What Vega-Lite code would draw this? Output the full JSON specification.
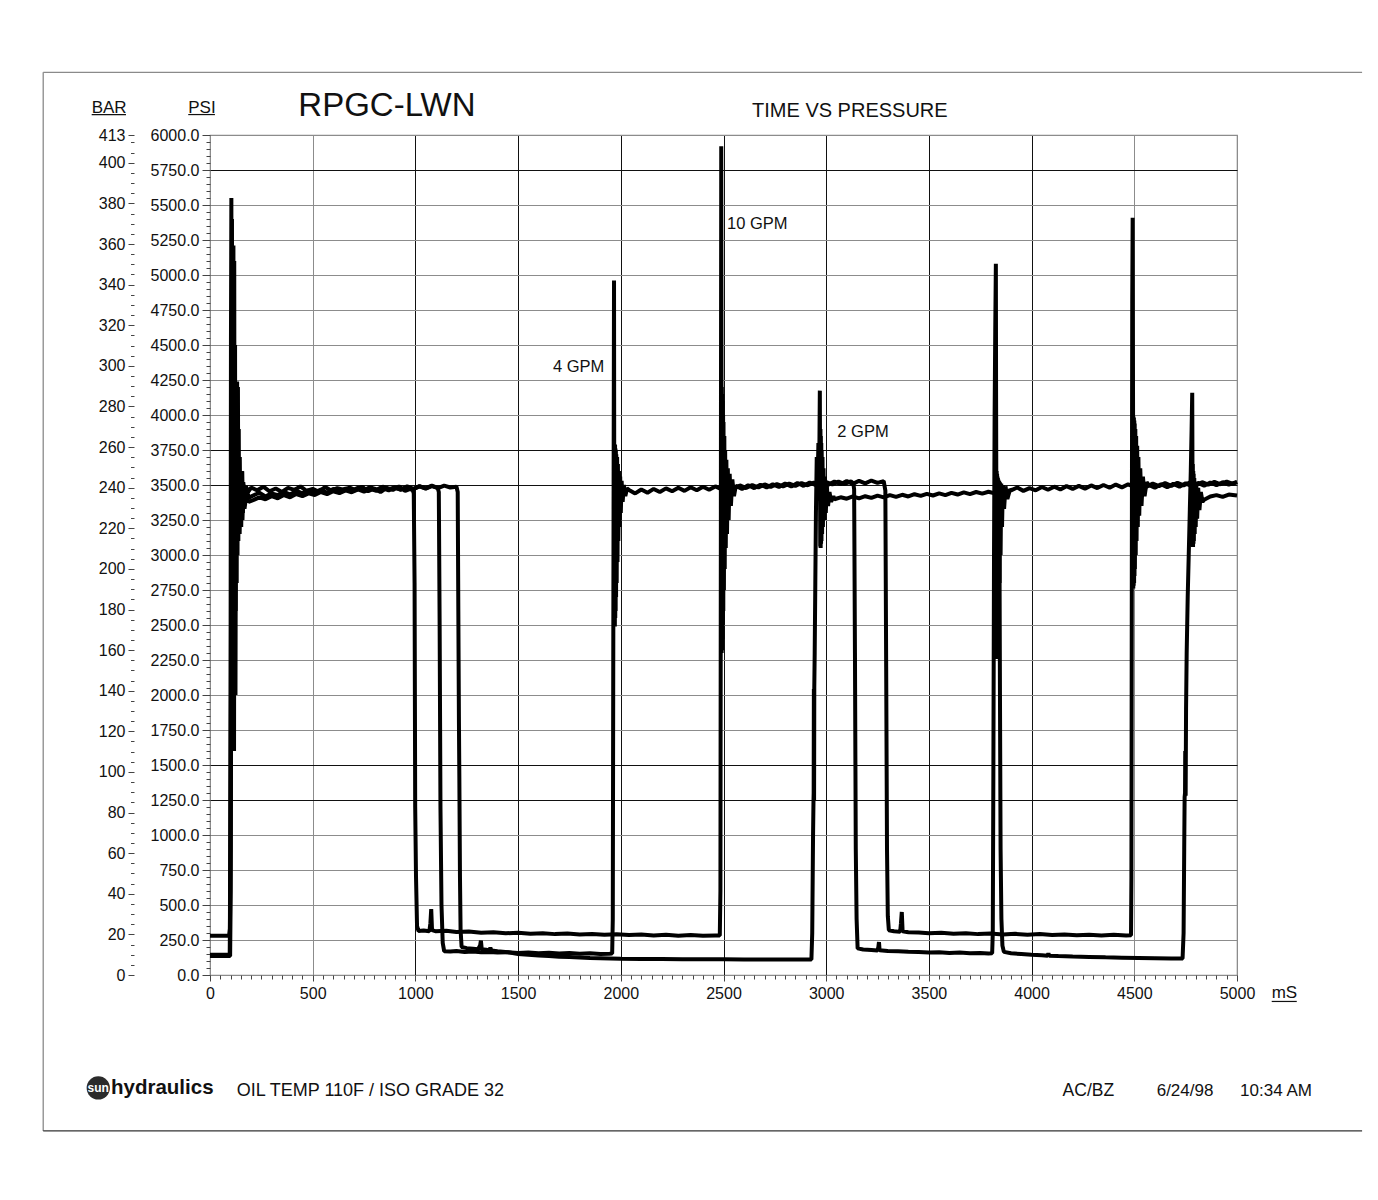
{
  "$schema": "https://vega.github.io/schema/vega-lite/v6.json",
  "width": 1027,
  "height": 840,
  "autosize": {"type": "none"},
  "padding": {"left": 210, "top": 135, "right": 141, "bottom": 225},
  "background": "white",
  "config": {
    "view": {"stroke": "#8a8a8a", "strokeWidth": 1.2},
    "axis": {"labelFont": "Liberation Sans", "labelColor": "#111"}
  },
  "datasets": {
    "traces": [
      {"series":"10 GPM","t":0,"psi":280},{"series":"10 GPM","t":93,"psi":280},{"series":"10 GPM","t":97,"psi":330},{"series":"10 GPM","t":100,"psi":2000},{"series":"10 GPM","t":102,"psi":4500},{"series":"10 GPM","t":104,"psi":5550},{"series":"10 GPM","t":106,"psi":3000},{"series":"10 GPM","t":107,"psi":5400},{"series":"10 GPM","t":109,"psi":2200},{"series":"10 GPM","t":111,"psi":4800},{"series":"10 GPM","t":113,"psi":1700},{"series":"10 GPM","t":115,"psi":4200},{"series":"10 GPM","t":117,"psi":1600},{"series":"10 GPM","t":119,"psi":4000},{"series":"10 GPM","t":121,"psi":2000},{"series":"10 GPM","t":123,"psi":3800},{"series":"10 GPM","t":125,"psi":2600},{"series":"10 GPM","t":127,"psi":3700},{"series":"10 GPM","t":129,"psi":3000},{"series":"10 GPM","t":131,"psi":3650},{"series":"10 GPM","t":134,"psi":3100},{"series":"10 GPM","t":137,"psi":3600},{"series":"10 GPM","t":140,"psi":3200},{"series":"10 GPM","t":144,"psi":3580},{"series":"10 GPM","t":148,"psi":3300},{"series":"10 GPM","t":152,"psi":3560},{"series":"10 GPM","t":157,"psi":3380},{"series":"10 GPM","t":162,"psi":3520},{"series":"10 GPM","t":168,"psi":3420},{"series":"10 GPM","t":175,"psi":3490},{"series":"10 GPM","t":185,"psi":3450},
      {"series":"10 GPM","t":200,"psi":3482},{"series":"10 GPM","t":230,"psi":3462},{"series":"10 GPM","t":260,"psi":3488},{"series":"10 GPM","t":290,"psi":3455},{"series":"10 GPM","t":320,"psi":3475},{"series":"10 GPM","t":350,"psi":3450},{"series":"10 GPM","t":380,"psi":3480},{"series":"10 GPM","t":410,"psi":3465},{"series":"10 GPM","t":440,"psi":3490},{"series":"10 GPM","t":470,"psi":3458},{"series":"10 GPM","t":500,"psi":3473},{"series":"10 GPM","t":530,"psi":3452},{"series":"10 GPM","t":560,"psi":3485},{"series":"10 GPM","t":590,"psi":3460},{"series":"10 GPM","t":620,"psi":3478},{"series":"10 GPM","t":650,"psi":3467},{"series":"10 GPM","t":680,"psi":3482},{"series":"10 GPM","t":710,"psi":3462},{"series":"10 GPM","t":740,"psi":3488},{"series":"10 GPM","t":770,"psi":3455},{"series":"10 GPM","t":800,"psi":3475},{"series":"10 GPM","t":830,"psi":3450},{"series":"10 GPM","t":860,"psi":3480},{"series":"10 GPM","t":890,"psi":3465},{"series":"10 GPM","t":920,"psi":3490},{"series":"10 GPM","t":950,"psi":3458},{"series":"10 GPM","t":975,"psi":3473},{"series":"10 GPM","t":988,"psi":3460},
      {"series":"10 GPM","t":992,"psi":3440},{"series":"10 GPM","t":996,"psi":2800},{"series":"10 GPM","t":999,"psi":1200},{"series":"10 GPM","t":1003,"psi":700},{"series":"10 GPM","t":1008,"psi":350},{"series":"10 GPM","t":1015,"psi":315},
      {"series":"10 GPM","t":1040,"psi":318},{"series":"10 GPM","t":1068,"psi":312},{"series":"10 GPM","t":1073,"psi":370},{"series":"10 GPM","t":1077,"psi":470},{"series":"10 GPM","t":1081,"psi":320},{"series":"10 GPM","t":1100,"psi":312},{"series":"10 GPM","t":1150,"psi":316},{"series":"10 GPM","t":1200,"psi":307},{"series":"10 GPM","t":1260,"psi":311},{"series":"10 GPM","t":1320,"psi":302},{"series":"10 GPM","t":1380,"psi":306},{"series":"10 GPM","t":1440,"psi":298},{"series":"10 GPM","t":1500,"psi":302},{"series":"10 GPM","t":1560,"psi":295},{"series":"10 GPM","t":1620,"psi":299},{"series":"10 GPM","t":1680,"psi":292},{"series":"10 GPM","t":1740,"psi":296},{"series":"10 GPM","t":1800,"psi":289},{"series":"10 GPM","t":1860,"psi":293},{"series":"10 GPM","t":1920,"psi":287},{"series":"10 GPM","t":1980,"psi":291},{"series":"10 GPM","t":2040,"psi":285},{"series":"10 GPM","t":2100,"psi":289},{"series":"10 GPM","t":2160,"psi":283},{"series":"10 GPM","t":2220,"psi":287},{"series":"10 GPM","t":2280,"psi":281},{"series":"10 GPM","t":2340,"psi":285},{"series":"10 GPM","t":2400,"psi":280},{"series":"10 GPM","t":2460,"psi":283},{"series":"10 GPM","t":2482,"psi":282},
      {"series":"10 GPM","t":2485,"psi":600},{"series":"10 GPM","t":2487,"psi":3000},{"series":"10 GPM","t":2489,"psi":5920},{"series":"10 GPM","t":2490,"psi":4500},{"series":"10 GPM","t":2491,"psi":2300},{"series":"10 GPM","t":2492,"psi":4200},{"series":"10 GPM","t":2493,"psi":2320},{"series":"10 GPM","t":2494,"psi":4150},{"series":"10 GPM","t":2495,"psi":2400},{"series":"10 GPM","t":2496,"psi":4100},{"series":"10 GPM","t":2497,"psi":2500},{"series":"10 GPM","t":2498,"psi":4000},{"series":"10 GPM","t":2499,"psi":2600},{"series":"10 GPM","t":2500,"psi":3950},{"series":"10 GPM","t":2502,"psi":2750},{"series":"10 GPM","t":2504,"psi":3850},{"series":"10 GPM","t":2506,"psi":2900},{"series":"10 GPM","t":2508,"psi":3750},{"series":"10 GPM","t":2511,"psi":3050},{"series":"10 GPM","t":2514,"psi":3680},{"series":"10 GPM","t":2517,"psi":3150},{"series":"10 GPM","t":2521,"psi":3620},{"series":"10 GPM","t":2525,"psi":3250},{"series":"10 GPM","t":2530,"psi":3580},{"series":"10 GPM","t":2536,"psi":3350},{"series":"10 GPM","t":2543,"psi":3540},{"series":"10 GPM","t":2551,"psi":3420},{"series":"10 GPM","t":2560,"psi":3495},
      {"series":"10 GPM","t":2590,"psi":3472},{"series":"10 GPM","t":2620,"psi":3498},{"series":"10 GPM","t":2650,"psi":3478},{"series":"10 GPM","t":2680,"psi":3502},{"series":"10 GPM","t":2710,"psi":3482},{"series":"10 GPM","t":2740,"psi":3505},{"series":"10 GPM","t":2770,"psi":3486},{"series":"10 GPM","t":2800,"psi":3510},{"series":"10 GPM","t":2830,"psi":3490},{"series":"10 GPM","t":2860,"psi":3514},{"series":"10 GPM","t":2890,"psi":3494},{"series":"10 GPM","t":2920,"psi":3518},{"series":"10 GPM","t":2950,"psi":3498},{"series":"10 GPM","t":2980,"psi":3520},{"series":"10 GPM","t":3010,"psi":3502},{"series":"10 GPM","t":3040,"psi":3525},{"series":"10 GPM","t":3070,"psi":3505},{"series":"10 GPM","t":3100,"psi":3528},{"series":"10 GPM","t":3130,"psi":3508},{"series":"10 GPM","t":3160,"psi":3530},{"series":"10 GPM","t":3190,"psi":3512},{"series":"10 GPM","t":3220,"psi":3532},{"series":"10 GPM","t":3250,"psi":3515},{"series":"10 GPM","t":3280,"psi":3528},
      {"series":"10 GPM","t":3288,"psi":3460},{"series":"10 GPM","t":3292,"psi":2200},{"series":"10 GPM","t":3296,"psi":900},{"series":"10 GPM","t":3300,"psi":420},{"series":"10 GPM","t":3305,"psi":320},
      {"series":"10 GPM","t":3330,"psi":312},{"series":"10 GPM","t":3360,"psi":308},{"series":"10 GPM","t":3364,"psi":370},{"series":"10 GPM","t":3368,"psi":450},{"series":"10 GPM","t":3372,"psi":312},{"series":"10 GPM","t":3400,"psi":306},{"series":"10 GPM","t":3450,"psi":303},{"series":"10 GPM","t":3500,"psi":298},{"series":"10 GPM","t":3560,"psi":302},{"series":"10 GPM","t":3620,"psi":295},{"series":"10 GPM","t":3680,"psi":299},{"series":"10 GPM","t":3740,"psi":292},{"series":"10 GPM","t":3800,"psi":296},{"series":"10 GPM","t":3860,"psi":290},{"series":"10 GPM","t":3920,"psi":294},{"series":"10 GPM","t":3980,"psi":288},{"series":"10 GPM","t":4040,"psi":292},{"series":"10 GPM","t":4100,"psi":286},{"series":"10 GPM","t":4160,"psi":290},{"series":"10 GPM","t":4220,"psi":284},{"series":"10 GPM","t":4280,"psi":288},{"series":"10 GPM","t":4340,"psi":283},{"series":"10 GPM","t":4400,"psi":287},{"series":"10 GPM","t":4460,"psi":282},{"series":"10 GPM","t":4484,"psi":284},
      {"series":"10 GPM","t":4486,"psi":700},{"series":"10 GPM","t":4488,"psi":3000},{"series":"10 GPM","t":4490,"psi":4800},{"series":"10 GPM","t":4492,"psi":5409},{"series":"10 GPM","t":4493,"psi":4600},{"series":"10 GPM","t":4494,"psi":3993},{"series":"10 GPM","t":4495,"psi":2760},{"series":"10 GPM","t":4496,"psi":3990},{"series":"10 GPM","t":4497,"psi":2780},{"series":"10 GPM","t":4498,"psi":3980},{"series":"10 GPM","t":4499,"psi":2800},{"series":"10 GPM","t":4500,"psi":3960},{"series":"10 GPM","t":4501,"psi":2850},{"series":"10 GPM","t":4502,"psi":3940},{"series":"10 GPM","t":4503,"psi":2900},{"series":"10 GPM","t":4505,"psi":3900},{"series":"10 GPM","t":4507,"psi":3000},{"series":"10 GPM","t":4509,"psi":3850},{"series":"10 GPM","t":4511,"psi":3100},{"series":"10 GPM","t":4514,"psi":3780},{"series":"10 GPM","t":4517,"psi":3200},{"series":"10 GPM","t":4520,"psi":3700},{"series":"10 GPM","t":4524,"psi":3280},{"series":"10 GPM","t":4529,"psi":3620},{"series":"10 GPM","t":4535,"psi":3350},{"series":"10 GPM","t":4542,"psi":3560},{"series":"10 GPM","t":4550,"psi":3420},{"series":"10 GPM","t":4560,"psi":3520},{"series":"10 GPM","t":4570,"psi":3500},
      {"series":"10 GPM","t":4600,"psi":3480},{"series":"10 GPM","t":4630,"psi":3505},{"series":"10 GPM","t":4660,"psi":3484},{"series":"10 GPM","t":4690,"psi":3508},{"series":"10 GPM","t":4720,"psi":3488},{"series":"10 GPM","t":4750,"psi":3512},{"series":"10 GPM","t":4780,"psi":3492},{"series":"10 GPM","t":4810,"psi":3515},{"series":"10 GPM","t":4840,"psi":3495},{"series":"10 GPM","t":4870,"psi":3518},{"series":"10 GPM","t":4900,"psi":3498},{"series":"10 GPM","t":4930,"psi":3520},{"series":"10 GPM","t":4960,"psi":3502},{"series":"10 GPM","t":5000,"psi":3522},

      {"series":"4 GPM","t":0,"psi":145},{"series":"4 GPM","t":96,"psi":145},{"series":"4 GPM","t":100,"psi":900},{"series":"4 GPM","t":103,"psi":3000},{"series":"4 GPM","t":106,"psi":4600},{"series":"4 GPM","t":108,"psi":3200},{"series":"4 GPM","t":110,"psi":4800},{"series":"4 GPM","t":112,"psi":2400},{"series":"4 GPM","t":114,"psi":5210},{"series":"4 GPM","t":116,"psi":3000},{"series":"4 GPM","t":118,"psi":5100},{"series":"4 GPM","t":120,"psi":2200},{"series":"4 GPM","t":122,"psi":4500},{"series":"4 GPM","t":124,"psi":2000},{"series":"4 GPM","t":127,"psi":3900},{"series":"4 GPM","t":130,"psi":2800},{"series":"4 GPM","t":132,"psi":4240},{"series":"4 GPM","t":134,"psi":3000},{"series":"4 GPM","t":136,"psi":4200},{"series":"4 GPM","t":138,"psi":3100},{"series":"4 GPM","t":140,"psi":3900},{"series":"4 GPM","t":142,"psi":3150},{"series":"4 GPM","t":145,"psi":3700},{"series":"4 GPM","t":148,"psi":3200},{"series":"4 GPM","t":151,"psi":3600},{"series":"4 GPM","t":154,"psi":3250},{"series":"4 GPM","t":157,"psi":3598},{"series":"4 GPM","t":160,"psi":3300},{"series":"4 GPM","t":164,"psi":3500},{"series":"4 GPM","t":170,"psi":3380},{"series":"4 GPM","t":178,"psi":3460},{"series":"4 GPM","t":190,"psi":3410},
      {"series":"4 GPM","t":210,"psi":3425},{"series":"4 GPM","t":240,"psi":3445},{"series":"4 GPM","t":270,"psi":3418},{"series":"4 GPM","t":300,"psi":3440},{"series":"4 GPM","t":330,"psi":3428},{"series":"4 GPM","t":360,"psi":3452},{"series":"4 GPM","t":390,"psi":3432},{"series":"4 GPM","t":420,"psi":3458},{"series":"4 GPM","t":450,"psi":3440},{"series":"4 GPM","t":480,"psi":3462},{"series":"4 GPM","t":510,"psi":3447},{"series":"4 GPM","t":540,"psi":3468},{"series":"4 GPM","t":570,"psi":3445},{"series":"4 GPM","t":600,"psi":3472},{"series":"4 GPM","t":630,"psi":3455},{"series":"4 GPM","t":660,"psi":3475},{"series":"4 GPM","t":690,"psi":3458},{"series":"4 GPM","t":720,"psi":3480},{"series":"4 GPM","t":750,"psi":3462},{"series":"4 GPM","t":780,"psi":3485},{"series":"4 GPM","t":810,"psi":3466},{"series":"4 GPM","t":840,"psi":3488},{"series":"4 GPM","t":870,"psi":3470},{"series":"4 GPM","t":900,"psi":3482},{"series":"4 GPM","t":930,"psi":3468},{"series":"4 GPM","t":960,"psi":3490},{"series":"4 GPM","t":990,"psi":3472},{"series":"4 GPM","t":1020,"psi":3492},{"series":"4 GPM","t":1050,"psi":3476},{"series":"4 GPM","t":1080,"psi":3495},{"series":"4 GPM","t":1108,"psi":3480},
      {"series":"4 GPM","t":1114,"psi":3450},{"series":"4 GPM","t":1118,"psi":2500},{"series":"4 GPM","t":1122,"psi":1200},{"series":"4 GPM","t":1127,"psi":500},{"series":"4 GPM","t":1133,"psi":230},{"series":"4 GPM","t":1140,"psi":170},
      {"series":"4 GPM","t":1170,"psi":168},{"series":"4 GPM","t":1200,"psi":172},{"series":"4 GPM","t":1240,"psi":165},{"series":"4 GPM","t":1280,"psi":168},{"series":"4 GPM","t":1320,"psi":162},{"series":"4 GPM","t":1360,"psi":165},{"series":"4 GPM","t":1400,"psi":160},{"series":"4 GPM","t":1450,"psi":163},{"series":"4 GPM","t":1500,"psi":158},{"series":"4 GPM","t":1550,"psi":161},{"series":"4 GPM","t":1600,"psi":156},{"series":"4 GPM","t":1650,"psi":159},{"series":"4 GPM","t":1700,"psi":154},{"series":"4 GPM","t":1750,"psi":157},{"series":"4 GPM","t":1800,"psi":152},{"series":"4 GPM","t":1850,"psi":155},{"series":"4 GPM","t":1900,"psi":150},{"series":"4 GPM","t":1945,"psi":152},{"series":"4 GPM","t":1958,"psi":153},
      {"series":"4 GPM","t":1961,"psi":400},{"series":"4 GPM","t":1963,"psi":2000},{"series":"4 GPM","t":1965,"psi":3500},{"series":"4 GPM","t":1967,"psi":4960},{"series":"4 GPM","t":1968,"psi":3600},{"series":"4 GPM","t":1969,"psi":2500},{"series":"4 GPM","t":1970,"psi":3780},{"series":"4 GPM","t":1971,"psi":2490},{"series":"4 GPM","t":1972,"psi":3790},{"series":"4 GPM","t":1973,"psi":2550},{"series":"4 GPM","t":1974,"psi":3760},{"series":"4 GPM","t":1975,"psi":2600},{"series":"4 GPM","t":1976,"psi":3750},{"series":"4 GPM","t":1977,"psi":2700},{"series":"4 GPM","t":1978,"psi":3720},{"series":"4 GPM","t":1980,"psi":2800},{"series":"4 GPM","t":1982,"psi":3700},{"series":"4 GPM","t":1984,"psi":2950},{"series":"4 GPM","t":1986,"psi":3650},{"series":"4 GPM","t":1988,"psi":3100},{"series":"4 GPM","t":1991,"psi":3600},{"series":"4 GPM","t":1994,"psi":3200},{"series":"4 GPM","t":1997,"psi":3560},{"series":"4 GPM","t":2000,"psi":3300},{"series":"4 GPM","t":2004,"psi":3530},{"series":"4 GPM","t":2009,"psi":3380},{"series":"4 GPM","t":2015,"psi":3500},{"series":"4 GPM","t":2022,"psi":3420},{"series":"4 GPM","t":2030,"psi":3475},
      {"series":"4 GPM","t":2040,"psi":3465},{"series":"4 GPM","t":2070,"psi":3440},{"series":"4 GPM","t":2100,"psi":3468},{"series":"4 GPM","t":2130,"psi":3445},{"series":"4 GPM","t":2160,"psi":3472},{"series":"4 GPM","t":2190,"psi":3450},{"series":"4 GPM","t":2220,"psi":3476},{"series":"4 GPM","t":2250,"psi":3455},{"series":"4 GPM","t":2280,"psi":3480},{"series":"4 GPM","t":2310,"psi":3458},{"series":"4 GPM","t":2340,"psi":3484},{"series":"4 GPM","t":2370,"psi":3462},{"series":"4 GPM","t":2400,"psi":3488},{"series":"4 GPM","t":2430,"psi":3466},{"series":"4 GPM","t":2460,"psi":3490},{"series":"4 GPM","t":2490,"psi":3470},{"series":"4 GPM","t":2520,"psi":3494},{"series":"4 GPM","t":2550,"psi":3474},{"series":"4 GPM","t":2580,"psi":3497},{"series":"4 GPM","t":2610,"psi":3478},{"series":"4 GPM","t":2640,"psi":3500},{"series":"4 GPM","t":2670,"psi":3482},{"series":"4 GPM","t":2700,"psi":3504},{"series":"4 GPM","t":2730,"psi":3486},{"series":"4 GPM","t":2760,"psi":3507},{"series":"4 GPM","t":2790,"psi":3490},{"series":"4 GPM","t":2820,"psi":3510},{"series":"4 GPM","t":2850,"psi":3494},{"series":"4 GPM","t":2880,"psi":3514},{"series":"4 GPM","t":2910,"psi":3498},{"series":"4 GPM","t":2940,"psi":3517},{"series":"4 GPM","t":2970,"psi":3500},{"series":"4 GPM","t":3000,"psi":3520},{"series":"4 GPM","t":3030,"psi":3504},{"series":"4 GPM","t":3060,"psi":3524},{"series":"4 GPM","t":3090,"psi":3507},{"series":"4 GPM","t":3120,"psi":3526},{"series":"4 GPM","t":3132,"psi":3512},
      {"series":"4 GPM","t":3136,"psi":3470},{"series":"4 GPM","t":3140,"psi":2300},{"series":"4 GPM","t":3144,"psi":900},{"series":"4 GPM","t":3148,"psi":400},{"series":"4 GPM","t":3153,"psi":190},
      {"series":"4 GPM","t":3180,"psi":182},{"series":"4 GPM","t":3220,"psi":178},{"series":"4 GPM","t":3250,"psi":175},{"series":"4 GPM","t":3254,"psi":200},{"series":"4 GPM","t":3257,"psi":235},{"series":"4 GPM","t":3260,"psi":176},{"series":"4 GPM","t":3300,"psi":172},{"series":"4 GPM","t":3350,"psi":169},{"series":"4 GPM","t":3400,"psi":166},{"series":"4 GPM","t":3450,"psi":164},{"series":"4 GPM","t":3500,"psi":161},{"series":"4 GPM","t":3550,"psi":163},{"series":"4 GPM","t":3600,"psi":158},{"series":"4 GPM","t":3650,"psi":160},{"series":"4 GPM","t":3700,"psi":156},{"series":"4 GPM","t":3750,"psi":158},{"series":"4 GPM","t":3790,"psi":154},{"series":"4 GPM","t":3808,"psi":155},
      {"series":"4 GPM","t":3811,"psi":300},{"series":"4 GPM","t":3814,"psi":1500},{"series":"4 GPM","t":3817,"psi":3000},{"series":"4 GPM","t":3820,"psi":4000},{"series":"4 GPM","t":3823,"psi":4600},{"series":"4 GPM","t":3826,"psi":5080},{"series":"4 GPM","t":3827,"psi":4200},{"series":"4 GPM","t":3828,"psi":3620},{"series":"4 GPM","t":3829,"psi":2258},{"series":"4 GPM","t":3830,"psi":3600},{"series":"4 GPM","t":3831,"psi":2260},{"series":"4 GPM","t":3832,"psi":3580},{"series":"4 GPM","t":3833,"psi":2300},{"series":"4 GPM","t":3834,"psi":3560},{"series":"4 GPM","t":3835,"psi":2350},{"series":"4 GPM","t":3836,"psi":3550},{"series":"4 GPM","t":3837,"psi":2450},{"series":"4 GPM","t":3838,"psi":3540},{"series":"4 GPM","t":3840,"psi":2600},{"series":"4 GPM","t":3842,"psi":3530},{"series":"4 GPM","t":3844,"psi":2800},{"series":"4 GPM","t":3846,"psi":3520},{"series":"4 GPM","t":3849,"psi":3000},{"series":"4 GPM","t":3852,"psi":3510},{"series":"4 GPM","t":3856,"psi":3200},{"series":"4 GPM","t":3860,"psi":3500},{"series":"4 GPM","t":3866,"psi":3330},{"series":"4 GPM","t":3873,"psi":3490},{"series":"4 GPM","t":3882,"psi":3400},{"series":"4 GPM","t":3895,"psi":3470},
      {"series":"4 GPM","t":3900,"psi":3462},{"series":"4 GPM","t":3930,"psi":3482},{"series":"4 GPM","t":3960,"psi":3458},{"series":"4 GPM","t":3990,"psi":3478},{"series":"4 GPM","t":4020,"psi":3462},{"series":"4 GPM","t":4050,"psi":3486},{"series":"4 GPM","t":4080,"psi":3466},{"series":"4 GPM","t":4110,"psi":3488},{"series":"4 GPM","t":4140,"psi":3468},{"series":"4 GPM","t":4170,"psi":3492},{"series":"4 GPM","t":4200,"psi":3472},{"series":"4 GPM","t":4230,"psi":3494},{"series":"4 GPM","t":4260,"psi":3474},{"series":"4 GPM","t":4290,"psi":3497},{"series":"4 GPM","t":4320,"psi":3478},{"series":"4 GPM","t":4350,"psi":3500},{"series":"4 GPM","t":4380,"psi":3480},{"series":"4 GPM","t":4410,"psi":3503},{"series":"4 GPM","t":4440,"psi":3483},{"series":"4 GPM","t":4470,"psi":3505},{"series":"4 GPM","t":4500,"psi":3486},{"series":"4 GPM","t":4530,"psi":3508},{"series":"4 GPM","t":4560,"psi":3488},{"series":"4 GPM","t":4590,"psi":3510},{"series":"4 GPM","t":4620,"psi":3492},{"series":"4 GPM","t":4650,"psi":3513},{"series":"4 GPM","t":4680,"psi":3494},{"series":"4 GPM","t":4710,"psi":3516},{"series":"4 GPM","t":4740,"psi":3497},{"series":"4 GPM","t":4770,"psi":3518},{"series":"4 GPM","t":4800,"psi":3500},{"series":"4 GPM","t":4830,"psi":3520},{"series":"4 GPM","t":4860,"psi":3502},{"series":"4 GPM","t":4890,"psi":3522},{"series":"4 GPM","t":4920,"psi":3505},{"series":"4 GPM","t":4950,"psi":3525},{"series":"4 GPM","t":4980,"psi":3508},{"series":"4 GPM","t":5000,"psi":3520},

      {"series":"2 GPM","t":0,"psi":135},{"series":"2 GPM","t":98,"psi":135},{"series":"2 GPM","t":101,"psi":600},{"series":"2 GPM","t":104,"psi":2800},{"series":"2 GPM","t":107,"psi":4500},{"series":"2 GPM","t":109,"psi":3100},{"series":"2 GPM","t":111,"psi":4300},{"series":"2 GPM","t":113,"psi":2900},{"series":"2 GPM","t":115,"psi":4000},{"series":"2 GPM","t":118,"psi":3100},{"series":"2 GPM","t":121,"psi":3900},{"series":"2 GPM","t":124,"psi":3000},{"series":"2 GPM","t":127,"psi":3700},{"series":"2 GPM","t":130,"psi":3050},{"series":"2 GPM","t":133,"psi":3600},{"series":"2 GPM","t":136,"psi":3100},{"series":"2 GPM","t":140,"psi":3550},{"series":"2 GPM","t":144,"psi":3150},{"series":"2 GPM","t":148,"psi":3500},{"series":"2 GPM","t":152,"psi":3200},{"series":"2 GPM","t":155,"psi":3600},{"series":"2 GPM","t":158,"psi":3250},{"series":"2 GPM","t":162,"psi":3450},{"series":"2 GPM","t":168,"psi":3330},{"series":"2 GPM","t":176,"psi":3420},{"series":"2 GPM","t":188,"psi":3380},
      {"series":"2 GPM","t":210,"psi":3392},{"series":"2 GPM","t":240,"psi":3412},{"series":"2 GPM","t":270,"psi":3398},{"series":"2 GPM","t":300,"psi":3420},{"series":"2 GPM","t":330,"psi":3405},{"series":"2 GPM","t":360,"psi":3428},{"series":"2 GPM","t":390,"psi":3412},{"series":"2 GPM","t":420,"psi":3435},{"series":"2 GPM","t":450,"psi":3420},{"series":"2 GPM","t":480,"psi":3440},{"series":"2 GPM","t":510,"psi":3428},{"series":"2 GPM","t":540,"psi":3450},{"series":"2 GPM","t":570,"psi":3435},{"series":"2 GPM","t":600,"psi":3455},{"series":"2 GPM","t":630,"psi":3442},{"series":"2 GPM","t":660,"psi":3462},{"series":"2 GPM","t":690,"psi":3448},{"series":"2 GPM","t":720,"psi":3468},{"series":"2 GPM","t":750,"psi":3452},{"series":"2 GPM","t":780,"psi":3472},{"series":"2 GPM","t":810,"psi":3458},{"series":"2 GPM","t":840,"psi":3478},{"series":"2 GPM","t":870,"psi":3462},{"series":"2 GPM","t":900,"psi":3482},{"series":"2 GPM","t":930,"psi":3466},{"series":"2 GPM","t":960,"psi":3485},{"series":"2 GPM","t":990,"psi":3470},{"series":"2 GPM","t":1020,"psi":3490},{"series":"2 GPM","t":1050,"psi":3474},{"series":"2 GPM","t":1080,"psi":3492},{"series":"2 GPM","t":1110,"psi":3478},{"series":"2 GPM","t":1140,"psi":3495},{"series":"2 GPM","t":1170,"psi":3482},{"series":"2 GPM","t":1200,"psi":3488},
      {"series":"2 GPM","t":1206,"psi":3450},{"series":"2 GPM","t":1209,"psi":2600},{"series":"2 GPM","t":1212,"psi":1800},{"series":"2 GPM","t":1214,"psi":1400},{"series":"2 GPM","t":1217,"psi":700},{"series":"2 GPM","t":1220,"psi":320},{"series":"2 GPM","t":1225,"psi":200},
      {"series":"2 GPM","t":1250,"psi":192},{"series":"2 GPM","t":1280,"psi":188},{"series":"2 GPM","t":1305,"psi":184},{"series":"2 GPM","t":1315,"psi":210},{"series":"2 GPM","t":1319,"psi":245},{"series":"2 GPM","t":1323,"psi":184},{"series":"2 GPM","t":1345,"psi":180},{"series":"2 GPM","t":1360,"psi":176},{"series":"2 GPM","t":1365,"psi":195},{"series":"2 GPM","t":1370,"psi":176},{"series":"2 GPM","t":1400,"psi":170},{"series":"2 GPM","t":1450,"psi":162},{"series":"2 GPM","t":1500,"psi":150},{"series":"2 GPM","t":1550,"psi":144},{"series":"2 GPM","t":1600,"psi":139},{"series":"2 GPM","t":1650,"psi":135},{"series":"2 GPM","t":1700,"psi":131},{"series":"2 GPM","t":1750,"psi":128},{"series":"2 GPM","t":1800,"psi":125},{"series":"2 GPM","t":1850,"psi":122},{"series":"2 GPM","t":1900,"psi":120},{"series":"2 GPM","t":1950,"psi":118},{"series":"2 GPM","t":2000,"psi":116},{"series":"2 GPM","t":2100,"psi":115},{"series":"2 GPM","t":2200,"psi":114},{"series":"2 GPM","t":2300,"psi":113},{"series":"2 GPM","t":2400,"psi":112},{"series":"2 GPM","t":2500,"psi":112},{"series":"2 GPM","t":2600,"psi":111},{"series":"2 GPM","t":2700,"psi":111},{"series":"2 GPM","t":2800,"psi":110},{"series":"2 GPM","t":2900,"psi":110},{"series":"2 GPM","t":2928,"psi":111},
      {"series":"2 GPM","t":2932,"psi":300},{"series":"2 GPM","t":2936,"psi":1000},{"series":"2 GPM","t":2938,"psi":1233},{"series":"2 GPM","t":2939,"psi":1300},{"series":"2 GPM","t":2940,"psi":2043},{"series":"2 GPM","t":2941,"psi":1250},{"series":"2 GPM","t":2942,"psi":2050},{"series":"2 GPM","t":2944,"psi":2300},{"series":"2 GPM","t":2947,"psi":2800},{"series":"2 GPM","t":2950,"psi":3300},{"series":"2 GPM","t":2954,"psi":3700},{"series":"2 GPM","t":2958,"psi":3500},{"series":"2 GPM","t":2962,"psi":3800},{"series":"2 GPM","t":2966,"psi":3600},{"series":"2 GPM","t":2969,"psi":4174},{"series":"2 GPM","t":2970,"psi":3700},{"series":"2 GPM","t":2971,"psi":3060},{"series":"2 GPM","t":2972,"psi":3900},{"series":"2 GPM","t":2973,"psi":3050},{"series":"2 GPM","t":2974,"psi":3850},{"series":"2 GPM","t":2975,"psi":3080},{"series":"2 GPM","t":2976,"psi":3800},{"series":"2 GPM","t":2977,"psi":3100},{"series":"2 GPM","t":2978,"psi":3750},{"series":"2 GPM","t":2980,"psi":3150},{"series":"2 GPM","t":2982,"psi":3700},{"series":"2 GPM","t":2984,"psi":3200},{"series":"2 GPM","t":2987,"psi":3620},{"series":"2 GPM","t":2990,"psi":3250},{"series":"2 GPM","t":2994,"psi":3560},{"series":"2 GPM","t":2998,"psi":3300},{"series":"2 GPM","t":3003,"psi":3500},{"series":"2 GPM","t":3009,"psi":3350},{"series":"2 GPM","t":3016,"psi":3450},{"series":"2 GPM","t":3024,"psi":3380},{"series":"2 GPM","t":3035,"psi":3420},
      {"series":"2 GPM","t":3040,"psi":3398},{"series":"2 GPM","t":3070,"psi":3412},{"series":"2 GPM","t":3100,"psi":3402},{"series":"2 GPM","t":3130,"psi":3418},{"series":"2 GPM","t":3160,"psi":3405},{"series":"2 GPM","t":3190,"psi":3420},{"series":"2 GPM","t":3220,"psi":3408},{"series":"2 GPM","t":3250,"psi":3424},{"series":"2 GPM","t":3280,"psi":3412},{"series":"2 GPM","t":3310,"psi":3428},{"series":"2 GPM","t":3340,"psi":3415},{"series":"2 GPM","t":3370,"psi":3430},{"series":"2 GPM","t":3400,"psi":3418},{"series":"2 GPM","t":3430,"psi":3434},{"series":"2 GPM","t":3460,"psi":3422},{"series":"2 GPM","t":3490,"psi":3437},{"series":"2 GPM","t":3520,"psi":3425},{"series":"2 GPM","t":3550,"psi":3440},{"series":"2 GPM","t":3580,"psi":3428},{"series":"2 GPM","t":3610,"psi":3444},{"series":"2 GPM","t":3640,"psi":3432},{"series":"2 GPM","t":3670,"psi":3447},{"series":"2 GPM","t":3700,"psi":3435},{"series":"2 GPM","t":3730,"psi":3450},{"series":"2 GPM","t":3760,"psi":3438},{"series":"2 GPM","t":3790,"psi":3452},{"series":"2 GPM","t":3820,"psi":3440},{"series":"2 GPM","t":3838,"psi":3448},
      {"series":"2 GPM","t":3843,"psi":3300},{"series":"2 GPM","t":3846,"psi":2000},{"series":"2 GPM","t":3849,"psi":900},{"series":"2 GPM","t":3853,"psi":400},{"series":"2 GPM","t":3858,"psi":210},{"series":"2 GPM","t":3865,"psi":165},
      {"series":"2 GPM","t":3900,"psi":155},{"series":"2 GPM","t":3950,"psi":150},{"series":"2 GPM","t":4000,"psi":145},{"series":"2 GPM","t":4050,"psi":141},{"series":"2 GPM","t":4078,"psi":138},{"series":"2 GPM","t":4082,"psi":155},{"series":"2 GPM","t":4086,"psi":138},{"series":"2 GPM","t":4130,"psi":135},{"series":"2 GPM","t":4200,"psi":132},{"series":"2 GPM","t":4280,"psi":129},{"series":"2 GPM","t":4360,"psi":126},{"series":"2 GPM","t":4440,"psi":124},{"series":"2 GPM","t":4520,"psi":122},{"series":"2 GPM","t":4600,"psi":120},{"series":"2 GPM","t":4680,"psi":118},{"series":"2 GPM","t":4730,"psi":117},
      {"series":"2 GPM","t":4735,"psi":118},{"series":"2 GPM","t":4740,"psi":300},{"series":"2 GPM","t":4743,"psi":900},{"series":"2 GPM","t":4745,"psi":1270},{"series":"2 GPM","t":4747,"psi":1300},{"series":"2 GPM","t":4748,"psi":1600},{"series":"2 GPM","t":4750,"psi":1280},{"series":"2 GPM","t":4752,"psi":1900},{"series":"2 GPM","t":4755,"psi":2300},{"series":"2 GPM","t":4760,"psi":2700},{"series":"2 GPM","t":4765,"psi":3000},{"series":"2 GPM","t":4770,"psi":3300},{"series":"2 GPM","t":4775,"psi":3600},{"series":"2 GPM","t":4779,"psi":3900},{"series":"2 GPM","t":4782,"psi":4158},{"series":"2 GPM","t":4783,"psi":3700},{"series":"2 GPM","t":4784,"psi":3060},{"series":"2 GPM","t":4785,"psi":3650},{"series":"2 GPM","t":4786,"psi":3057},{"series":"2 GPM","t":4787,"psi":3600},{"series":"2 GPM","t":4788,"psi":3080},{"series":"2 GPM","t":4789,"psi":3580},{"series":"2 GPM","t":4790,"psi":3100},{"series":"2 GPM","t":4792,"psi":3550},{"series":"2 GPM","t":4794,"psi":3150},{"series":"2 GPM","t":4796,"psi":3520},{"series":"2 GPM","t":4799,"psi":3200},{"series":"2 GPM","t":4802,"psi":3500},{"series":"2 GPM","t":4806,"psi":3260},{"series":"2 GPM","t":4811,"psi":3480},{"series":"2 GPM","t":4817,"psi":3320},{"series":"2 GPM","t":4824,"psi":3450},{"series":"2 GPM","t":4832,"psi":3380},{"series":"2 GPM","t":4840,"psi":3395},
      {"series":"2 GPM","t":4870,"psi":3418},{"series":"2 GPM","t":4900,"psi":3428},{"series":"2 GPM","t":4930,"psi":3415},{"series":"2 GPM","t":4960,"psi":3432},{"series":"2 GPM","t":5000,"psi":3425}
    ],
    "annotations": [
      {"label":"4 GPM","t":1670,"psi":4307},
      {"label":"10 GPM","t":2517,"psi":5329},
      {"label":"2 GPM","t":3054,"psi":3846}
    ]
  },
  "resolve": {"axis": {"x": "independent", "y": "independent"}},
  "layer": [
    {
      "data": {"name": "traces"},
      "mark": {"type": "line", "color": "#000", "strokeWidth": 4, "strokeJoin": "bevel", "clip": false},
      "encoding": {
        "x": {"field": "t", "type": "quantitative", "scale": {"domain": [0, 5000], "nice": false, "zero": false},
          "axis": {"orient": "bottom", "values": [0,500,1000,1500,2000,2500,3000,3500,4000,4500,5000], "format": "d", "labelFontSize": 16, "labelPadding": 4, "labelOverlap": false, "labelFlush": false, "tickSize": 6, "tickColor": "#444", "domain": false, "grid": true, "gridWidth": 1,
            "gridColor": {"condition": {"test": "datum.value >= 1000 && datum.value <= 4000", "value": "#111"}, "value": "#8c8c8c"}, "title": null}},
        "y": {"field": "psi", "type": "quantitative", "scale": {"domain": [0, 6000], "nice": false, "zero": false},
          "axis": {"orient": "left", "values": [0,250,500,750,1000,1250,1500,1750,2000,2250,2500,2750,3000,3250,3500,3750,4000,4250,4500,4750,5000,5250,5500,5750,6000], "format": ".1f", "labelFontSize": 16, "labelPadding": 3, "labelOverlap": false, "labelFlush": false, "tickSize": 8, "tickColor": "#444", "domain": false, "grid": true, "gridWidth": 1,
            "gridColor": {"condition": {"test": "indexof([5750,3750,3500,1500,1250], datum.value) >= 0", "value": "#111"}, "value": "#8c8c8c"}, "title": null}},
        "detail": {"field": "series", "type": "nominal"}
      }
    },
    {
      "data": {"name": "annotations"},
      "mark": {"type": "text", "font": "Liberation Sans", "fontSize": 16.5, "align": "left", "baseline": "alphabetic", "color": "#111"},
      "encoding": {
        "x": {"field": "t", "type": "quantitative", "scale": {"domain": [0, 5000], "nice": false, "zero": false},
          "axis": {"orient": "bottom", "values": [50,100,150,200,250,300,350,400,450,550,600,650,700,750,800,850,900,950,1050,1100,1150,1200,1250,1300,1350,1400,1450,1550,1600,1650,1700,1750,1800,1850,1900,1950,2050,2100,2150,2200,2250,2300,2350,2400,2450,2550,2600,2650,2700,2750,2800,2850,2900,2950,3050,3100,3150,3200,3250,3300,3350,3400,3450,3550,3600,3650,3700,3750,3800,3850,3900,3950,4050,4100,4150,4200,4250,4300,4350,4400,4450,4550,4600,4650,4700,4750,4800,4850,4900,4950], "labels": false, "tickSize": 4, "tickColor": "#444", "domain": false, "grid": false, "title": null}},
        "y": {"field": "psi", "type": "quantitative", "scale": {"domain": [0, 6000], "nice": false, "zero": false},
          "axis": {"orient": "left", "values": [50,100,150,200,300,350,400,450,550,600,650,700,800,850,900,950,1050,1100,1150,1200,1300,1350,1400,1450,1550,1600,1650,1700,1800,1850,1900,1950,2050,2100,2150,2200,2300,2350,2400,2450,2550,2600,2650,2700,2800,2850,2900,2950,3050,3100,3150,3200,3300,3350,3400,3450,3550,3600,3650,3700,3800,3850,3900,3950,4050,4100,4150,4200,4300,4350,4400,4450,4550,4600,4650,4700,4800,4850,4900,4950,5050,5100,5150,5200,5300,5350,5400,5450,5550,5600,5650,5700,5800,5850,5900,5950], "labels": false, "tickSize": 4, "tickColor": "#444", "domain": false, "grid": false, "title": null}},
        "text": {"field": "label", "type": "nominal"}
      }
    },
    {
      "data": {"values": [{}]},
      "mark": {"type": "text", "text": "BAR", "font": "Liberation Sans", "fontSize": 17, "align": "left", "baseline": "alphabetic", "color": "#111"},
      "encoding": {
        "x": {"datum": -576, "type": "quantitative", "scale": {"domain": [0, 5000], "nice": false, "zero": false}, "axis": null},
        "y": {"datum": 6157, "type": "quantitative", "scale": {"domain": [0, 6000], "nice": false, "zero": false},
          "axis": {"orient": "left", "offset": 76, "values": [0,290.08,580.15,870.23,1160.30,1450.38,1740.45,2030.53,2320.60,2610.68,2900.75,3190.83,3480.90,3770.98,4061.06,4351.13,4641.21,4931.28,5221.36,5511.43,5801.51,6000],
            "labelExpr": "datum.value > 5990 ? '413' : format(datum.value / 14.50377, '.0f')", "labelFontSize": 16, "labelPadding": 3, "labelOverlap": false, "labelFlush": false, "tickSize": 6, "tickColor": "#444", "domain": false, "grid": false, "title": null}}
      }
    },
    {
      "data": {"values": [{}]},
      "mark": {"type": "text", "text": "PSI", "font": "Liberation Sans", "fontSize": 17, "align": "left", "baseline": "alphabetic", "color": "#111"},
      "encoding": {
        "x": {"datum": -106, "type": "quantitative", "scale": {"domain": [0, 5000], "nice": false, "zero": false}, "axis": null},
        "y": {"datum": 6157, "type": "quantitative", "scale": {"domain": [0, 6000], "nice": false, "zero": false},
          "axis": {"orient": "left", "offset": 76, "values": [72.52,145.04,217.56,362.59,435.11,507.63,652.67,725.19,797.71,942.75,1015.26,1087.78,1232.82,1305.34,1377.86,1522.90,1595.41,1667.93,1812.97,1885.49,1958.01,2103.05,2175.57,2248.08,2393.12,2465.64,2538.16,2683.20,2755.72,2828.24,2973.27,3045.79,3118.31,3263.35,3335.87,3408.39,3553.42,3625.94,3698.46,3843.50,3916.02,3988.54,4133.57,4206.09,4278.61,4423.65,4496.17,4568.69,4713.73,4786.24,4858.76,5003.80,5076.32,5148.84,5293.88,5366.39,5438.91,5583.95,5656.47,5728.99,5874.03,5946.55],
            "labels": false, "tickSize": 3.5, "tickColor": "#444", "domain": false, "grid": false, "title": null}}
      }
    },
    {
      "data": {"values": [{}]},
      "mark": {"type": "text", "text": "RPGC-LWN", "font": "Liberation Sans", "fontSize": 33, "align": "left", "baseline": "alphabetic", "color": "#111"},
      "encoding": {
        "x": {"datum": 430, "type": "quantitative", "scale": {"domain": [0, 5000], "nice": false, "zero": false}, "axis": null},
        "y": {"datum": 6136, "type": "quantitative", "scale": {"domain": [0, 6000], "nice": false, "zero": false}, "axis": null}
      }
    },
    {
      "data": {"values": [{}]},
      "mark": {"type": "text", "text": "TIME VS PRESSURE", "font": "Liberation Sans", "fontSize": 20, "align": "left", "baseline": "alphabetic", "color": "#111"},
      "encoding": {
        "x": {"datum": 2639, "type": "quantitative", "scale": {"domain": [0, 5000], "nice": false, "zero": false}, "axis": null},
        "y": {"datum": 6129, "type": "quantitative", "scale": {"domain": [0, 6000], "nice": false, "zero": false}, "axis": null}
      }
    },
    {
      "data": {"values": [{}]},
      "mark": {"type": "text", "text": "mS", "font": "Liberation Sans", "fontSize": 17, "align": "left", "baseline": "alphabetic", "color": "#111"},
      "encoding": {
        "x": {"datum": 5169, "type": "quantitative", "scale": {"domain": [0, 5000], "nice": false, "zero": false}, "axis": null},
        "y": {"datum": -166, "type": "quantitative", "scale": {"domain": [0, 6000], "nice": false, "zero": false}, "axis": null}
      }
    },
    {
      "data": {"values": [{}]},
      "mark": {"type": "rule", "color": "#111", "strokeWidth": 1.2},
      "encoding": {
        "x": {"datum": -576, "type": "quantitative", "scale": {"domain": [0, 5000], "nice": false, "zero": false}, "axis": null},
        "x2": {"datum": -409},
        "y": {"datum": 6146, "type": "quantitative", "scale": {"domain": [0, 6000], "nice": false, "zero": false}, "axis": null}
      }
    },
    {
      "data": {"values": [{}]},
      "mark": {"type": "rule", "color": "#111", "strokeWidth": 1.2},
      "encoding": {
        "x": {"datum": -106, "type": "quantitative", "scale": {"domain": [0, 5000], "nice": false, "zero": false}, "axis": null},
        "x2": {"datum": 24},
        "y": {"datum": 6146, "type": "quantitative", "scale": {"domain": [0, 6000], "nice": false, "zero": false}, "axis": null}
      }
    },
    {
      "data": {"values": [{}]},
      "mark": {"type": "rule", "color": "#111", "strokeWidth": 1.2},
      "encoding": {
        "x": {"datum": 5169, "type": "quantitative", "scale": {"domain": [0, 5000], "nice": false, "zero": false}, "axis": null},
        "x2": {"datum": 5291},
        "y": {"datum": -189, "type": "quantitative", "scale": {"domain": [0, 6000], "nice": false, "zero": false}, "axis": null}
      }
    },
    {
      "data": {"values": [{}]},
      "mark": {"type": "rule", "color": "#8a8a8a", "strokeWidth": 1.3},
      "encoding": {
        "x": {"datum": -812, "type": "quantitative", "scale": {"domain": [0, 5000], "nice": false, "zero": false}, "axis": null},
        "x2": {"datum": 5609},
        "y": {"datum": 6448, "type": "quantitative", "scale": {"domain": [0, 6000], "nice": false, "zero": false}, "axis": null}
      }
    },
    {
      "data": {"values": [{}]},
      "mark": {"type": "rule", "color": "#8a8a8a", "strokeWidth": 1.3},
      "encoding": {
        "x": {"datum": -812, "type": "quantitative", "scale": {"domain": [0, 5000], "nice": false, "zero": false}, "axis": null},
        "y": {"datum": 6448, "type": "quantitative", "scale": {"domain": [0, 6000], "nice": false, "zero": false}, "axis": null},
        "y2": {"datum": -1114}
      }
    },
    {
      "data": {"values": [{}]},
      "mark": {"type": "rule", "color": "#333", "strokeWidth": 1.3},
      "encoding": {
        "x": {"datum": -812, "type": "quantitative", "scale": {"domain": [0, 5000], "nice": false, "zero": false}, "axis": null},
        "x2": {"datum": 5609},
        "y": {"datum": -1114, "type": "quantitative", "scale": {"domain": [0, 6000], "nice": false, "zero": false}, "axis": null}
      }
    },
    {
      "data": {"values": [{}]},
      "mark": {"type": "point", "shape": "circle", "filled": true, "color": "#2b2b2b", "opacity": 1, "size": 540},
      "encoding": {
        "x": {"datum": -544, "type": "quantitative", "scale": {"domain": [0, 5000], "nice": false, "zero": false}, "axis": null},
        "y": {"datum": -807, "type": "quantitative", "scale": {"domain": [0, 6000], "nice": false, "zero": false}, "axis": null}
      }
    },
    {
      "data": {"values": [{}]},
      "mark": {"type": "text", "text": "sun", "font": "Liberation Sans", "fontSize": 12, "fontWeight": "bold", "align": "center", "baseline": "middle", "color": "#fff"},
      "encoding": {
        "x": {"datum": -544, "type": "quantitative", "scale": {"domain": [0, 5000], "nice": false, "zero": false}, "axis": null},
        "y": {"datum": -807, "type": "quantitative", "scale": {"domain": [0, 6000], "nice": false, "zero": false}, "axis": null}
      }
    },
    {
      "data": {"values": [{}]},
      "mark": {"type": "text", "text": "hydraulics", "font": "Liberation Sans", "fontSize": 20.5, "fontWeight": "bold", "align": "left", "baseline": "alphabetic", "color": "#111"},
      "encoding": {
        "x": {"datum": -482, "type": "quantitative", "scale": {"domain": [0, 5000], "nice": false, "zero": false}, "axis": null},
        "y": {"datum": -852, "type": "quantitative", "scale": {"domain": [0, 6000], "nice": false, "zero": false}, "axis": null}
      }
    },
    {
      "data": {"values": [{}]},
      "mark": {"type": "text", "text": "OIL TEMP 110F / ISO GRADE 32", "font": "Liberation Sans", "fontSize": 18, "align": "left", "baseline": "alphabetic", "color": "#111"},
      "encoding": {
        "x": {"datum": 130, "type": "quantitative", "scale": {"domain": [0, 5000], "nice": false, "zero": false}, "axis": null},
        "y": {"datum": -866, "type": "quantitative", "scale": {"domain": [0, 6000], "nice": false, "zero": false}, "axis": null}
      }
    },
    {
      "data": {"values": [{}]},
      "mark": {"type": "text", "text": "AC/BZ", "font": "Liberation Sans", "fontSize": 17.5, "align": "left", "baseline": "alphabetic", "color": "#111"},
      "encoding": {
        "x": {"datum": 4151, "type": "quantitative", "scale": {"domain": [0, 5000], "nice": false, "zero": false}, "axis": null},
        "y": {"datum": -866, "type": "quantitative", "scale": {"domain": [0, 6000], "nice": false, "zero": false}, "axis": null}
      }
    },
    {
      "data": {"values": [{}]},
      "mark": {"type": "text", "text": "6/24/98", "font": "Liberation Sans", "fontSize": 17, "align": "left", "baseline": "alphabetic", "color": "#111"},
      "encoding": {
        "x": {"datum": 4609, "type": "quantitative", "scale": {"domain": [0, 5000], "nice": false, "zero": false}, "axis": null},
        "y": {"datum": -866, "type": "quantitative", "scale": {"domain": [0, 6000], "nice": false, "zero": false}, "axis": null}
      }
    },
    {
      "data": {"values": [{}]},
      "mark": {"type": "text", "text": "10:34 AM", "font": "Liberation Sans", "fontSize": 17, "align": "left", "baseline": "alphabetic", "color": "#111"},
      "encoding": {
        "x": {"datum": 5015, "type": "quantitative", "scale": {"domain": [0, 5000], "nice": false, "zero": false}, "axis": null},
        "y": {"datum": -866, "type": "quantitative", "scale": {"domain": [0, 6000], "nice": false, "zero": false}, "axis": null}
      }
    }
  ]
}
